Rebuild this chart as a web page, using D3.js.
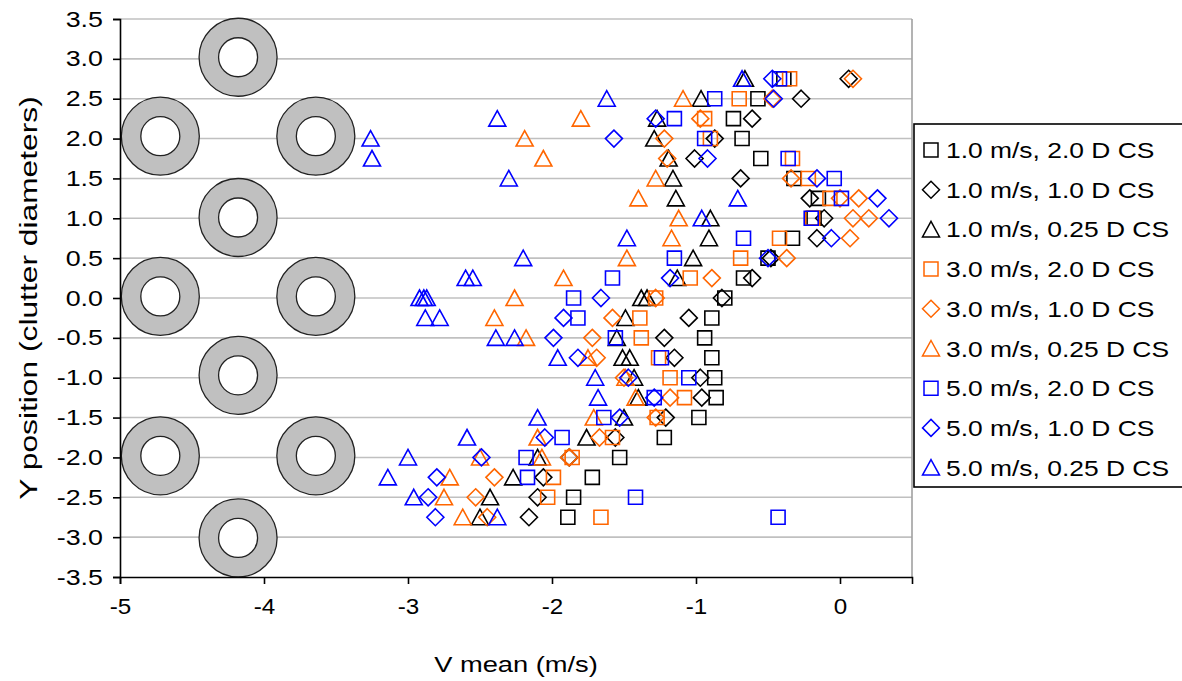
<!DOCTYPE html>
<html><head><meta charset="utf-8">
<script src="https://cdn.jsdelivr.net/npm/d3@7"></script>
<style>body{margin:0;background:#fff;} text{font-family:Arial,"Liberation Sans",sans-serif;fill:#000;}</style>
</head><body><svg id="chart" width="1182" height="681"></svg>
<script>
// ---- data: [y position, V mean] pairs ----
const s1_20 = [[2.75,-0.39],[2.5,-0.57],[2.25,-0.74],[2.0,-0.68],[1.75,-0.55],[1.5,-0.32],[1.25,-0.15],[1.0,-0.18],[0.75,-0.33],[0.5,-0.50],[0.25,-0.67],[0,-0.80],[-0.25,-0.89],[-0.5,-0.94],[-0.75,-0.89],[-1.0,-0.87],[-1.25,-0.86],[-1.5,-0.98],[-1.75,-1.22],[-2.0,-1.53],[-2.25,-1.72],[-2.5,-1.85],[-2.75,-1.89]];
const s1_10 = [[2.75,0.06],[2.5,-0.27],[2.25,-0.61],[2.0,-0.87],[1.75,-1.01],[1.5,-0.69],[1.25,-0.21],[1.0,-0.11],[0.75,-0.16],[0.5,-0.48],[0.25,-0.61],[0,-0.82],[-0.25,-1.05],[-0.5,-1.22],[-0.75,-1.15],[-1.0,-0.97],[-1.25,-0.96],[-1.5,-1.21],[-1.75,-1.56],[-2.0,-1.88],[-2.25,-2.06],[-2.5,-2.10],[-2.75,-2.16]];
const s1_025 = [[2.75,-0.66],[2.5,-0.965],[2.25,-1.27],[2.0,-1.29],[1.75,-1.19],[1.5,-1.16],[1.25,-1.14],[1.0,-0.90],[0.75,-0.91],[0.5,-1.02],[0.25,-1.13],[0,-1.38],[0,-1.34],[-0.25,-1.49],[-0.5,-1.55],[-0.75,-1.51],[-0.75,-1.46],[-1.0,-1.43],[-1.25,-1.40],[-1.5,-1.50],[-1.75,-1.76],[-2.0,-2.10],[-2.25,-2.27],[-2.5,-2.43],[-2.75,-2.50]];
const s3_20 = [[2.75,-0.35],[2.5,-0.70],[2.25,-0.94],[2.0,-0.90],[1.75,-0.33],[1.5,-0.22],[1.25,-0.07],[1.0,-0.19],[0.75,-0.42],[0.5,-0.69],[0.25,-1.04],[0,-1.28],[-0.25,-1.39],[-0.5,-1.38],[-0.75,-1.26],[-1.0,-1.18],[-1.25,-1.08],[-1.5,-1.27],[-1.75,-1.58],[-2.0,-1.86],[-2.25,-1.99],[-2.5,-2.03],[-2.75,-1.66]];
const s3_10 = [[2.75,0.09],[2.5,-0.47],[2.25,-0.97],[2.0,-1.22],[1.75,-1.20],[1.5,-0.34],[1.25,0.00],[1.25,0.13],[1.0,0.09],[1.0,0.20],[0.75,0.07],[0.5,-0.37],[0.25,-0.89],[0,-1.28],[-0.25,-1.58],[-0.5,-1.72],[-0.75,-1.69],[-1.0,-1.50],[-1.25,-1.18],[-1.5,-1.28],[-1.75,-1.67],[-2.0,-1.88],[-2.25,-2.40],[-2.5,-2.53],[-2.75,-2.45]];
const s3_025 = [[2.5,-1.09],[2.25,-1.80],[2.0,-2.19],[1.75,-2.06],[1.5,-1.28],[1.25,-1.40],[1.0,-1.12],[0.75,-1.17],[0.5,-1.48],[0.25,-1.92],[0,-2.26],[-0.25,-2.40],[-0.5,-2.18],[-0.75,-1.75],[-1.0,-1.49],[-1.25,-1.42],[-1.5,-1.71],[-1.75,-2.10],[-2.0,-2.50],[-2.0,-2.07],[-2.25,-2.71],[-2.5,-2.75],[-2.75,-2.62]];
const s5_20 = [[2.75,-0.42],[2.5,-0.87],[2.25,-1.15],[2.0,-0.94],[1.75,-0.36],[1.5,-0.04],[1.25,0.01],[1.0,-0.20],[0.75,-0.67],[0.5,-1.15],[0.25,-1.58],[0,-1.85],[-0.25,-1.82],[-0.5,-1.56],[-0.75,-1.24],[-1.0,-1.05],[-1.25,-1.29],[-1.5,-1.64],[-1.75,-1.93],[-2.0,-2.18],[-2.25,-2.17],[-2.5,-1.42],[-2.75,-0.43]];
const s5_10 = [[2.75,-0.47],[2.5,-0.46],[2.25,-1.28],[2.0,-1.57],[1.75,-0.92],[1.5,-0.16],[1.25,0.26],[1.0,0.34],[0.75,-0.06],[0.5,-0.50],[0.25,-1.18],[0,-1.66],[-0.25,-1.92],[-0.5,-1.99],[-0.75,-1.82],[-1.0,-1.47],[-1.25,-1.29],[-1.5,-1.53],[-1.75,-2.05],[-2.0,-2.49],[-2.25,-2.80],[-2.5,-2.86],[-2.75,-2.81]];
const s5_025 = [[2.75,-0.68],[2.5,-1.62],[2.25,-2.38],[2.0,-3.26],[1.75,-3.25],[1.5,-2.30],[1.25,-0.71],[1.0,-0.96],[0.75,-1.48],[0.5,-2.20],[0.25,-2.60],[0.25,-2.55],[0,-2.92],[0,-2.89],[0,-2.87],[-0.25,-2.88],[-0.25,-2.78],[-0.5,-2.39],[-0.5,-2.26],[-0.75,-1.96],[-1.0,-1.70],[-1.25,-1.68],[-1.5,-2.10],[-1.75,-2.59],[-2.0,-3.00],[-2.25,-3.14],[-2.5,-2.96],[-2.75,-2.38]];

const seriesNames = ["1.0 m/s, 2.0 D CS","1.0 m/s, 1.0 D CS","1.0 m/s, 0.25 D CS","3.0 m/s, 2.0 D CS","3.0 m/s, 1.0 D CS","3.0 m/s, 0.25 D CS","5.0 m/s, 2.0 D CS","5.0 m/s, 1.0 D CS","5.0 m/s, 0.25 D CS"];
const seriesData = [s1_20,s1_10,s1_025,s3_20,s3_10,s3_025,s5_20,s5_10,s5_025];
const seriesColors = ["#000000","#000000","#000000","#FF6600","#FF6600","#FF6600","#0000FF","#0000FF","#0000FF"];
const seriesShapes = ["square","diamond","triangle","square","diamond","triangle","square","diamond","triangle"];

// cylinder (clutter) positions
const ringX = [-4.18,-4.72,-3.64,-4.18,-4.72,-3.64,-4.18,-4.72,-3.64,-4.18];
const ringY = [3.02,2.03,2.03,1.01,0.02,0.02,-0.97,-1.98,-1.98,-3.01];

const xTicks = [-5,-4,-3,-2,-1,0];
const yTicks = [-3.5,-3,-2.5,-2,-1.5,-1,-0.5,0,0.5,1,1.5,2,2.5,3,3.5];

// ---- drawing ----
const svg = d3.select('#chart');
const x = d3.scaleLinear().domain([-5,0.5]).range([120,912]);
const y = d3.scaleLinear().domain([-3.5,3.5]).range([577,19]);

const shapePath = {
  square: "M-7,-7H7V7H-7Z",
  diamond: "M0,-8.5L8.5,0L0,8.5L-8.5,0Z",
  triangle: "M0,-8L8.5,7.5L-8.5,7.5Z"
};

function stretch(sel, factor){
  sel.each(function(){
    const w = this.getComputedTextLength();
    d3.select(this).attr("textLength", w*factor).attr("lengthAdjust","spacingAndGlyphs");
  });
}

// gridlines
svg.append("g").selectAll("line").data(yTicks.filter(v=>v>-3.5)).join("line")
  .attr("x1", x(-5)).attr("x2", x(0.5))
  .attr("y1", d=>y(d)).attr("y2", d=>y(d))
  .attr("stroke","#c0c0c0").attr("stroke-width",1.6);
svg.append("line").attr("x1",x(0.5)).attr("x2",x(0.5)).attr("y1",y(3.5)).attr("y2",y(-3.5))
  .attr("stroke","#a0a0a0").attr("stroke-width",1.6);

// rings
const rings = svg.append("g").selectAll("g").data(ringX.map((v,i)=>[v,ringY[i]])).join("g")
  .attr("transform", d=>`translate(${x(d[0])},${y(d[1])})`);
rings.append("circle").attr("r",39).attr("fill","#c0c0c0").attr("stroke","#222").attr("stroke-width",1.3);
rings.append("circle").attr("r",19.5).attr("fill","#fff").attr("stroke","#222").attr("stroke-width",1.3);

// axes
const yAxis = svg.append("g").attr("transform",`translate(${x(-5)},0)`)
  .call(d3.axisLeft(y).tickValues(yTicks).tickFormat(d=>d.toFixed(1)).tickSize(7).tickPadding(10));
const xAxis = svg.append("g").attr("transform",`translate(0,${y(-3.5)})`)
  .call(d3.axisBottom(x).tickValues(xTicks).tickFormat(d=>String(d)).tickSize(7).tickPadding(14));
[yAxis,xAxis].forEach(a=>{
  a.select(".domain").attr("stroke","#000").attr("stroke-width",1.6);
  a.selectAll(".tick line").attr("stroke","#000").attr("stroke-width",1.6);
  a.selectAll("text").attr("font-size",22).attr("font-family","Arial, 'Liberation Sans', sans-serif").attr("fill","#000");
});
stretch(yAxis.selectAll("text"),1.22);
stretch(xAxis.selectAll("text"),1.1);

// markers
seriesData.forEach((data,i)=>{
  svg.append("g").selectAll("path").data(data).join("path")
    .attr("d", shapePath[seriesShapes[i]])
    .attr("transform", d=>`translate(${x(d[1])},${y(d[0])})`)
    .attr("fill","none").attr("stroke",seriesColors[i]).attr("stroke-width",1.6);
});

// axis titles
const xt = svg.append("text").attr("x",(x(-5)+x(0.5))/2).attr("y",672).attr("text-anchor","middle")
  .attr("font-size",22).text("V mean (m/s)");
stretch(xt,1.24);
const yt = svg.append("text").attr("transform",`translate(37,${(y(3.5)+y(-3.5))/2}) rotate(-90)`)
  .attr("text-anchor","middle").attr("font-size",23).text("Y position (clutter diameters)");
stretch(yt,1.38);

// legend
const lg = svg.append("g");
lg.append("rect").attr("x",914).attr("y",124).attr("width",270).attr("height",363)
  .attr("fill","#fff").attr("stroke","#000").attr("stroke-width",1.6);
seriesNames.forEach((name,i)=>{
  const cy = 150 + i*39.7;
  lg.append("path").attr("d",shapePath[seriesShapes[i]]).attr("transform",`translate(931,${cy})`)
    .attr("fill","none").attr("stroke",seriesColors[i]).attr("stroke-width",1.5);
  const t = lg.append("text").attr("x",946).attr("y",cy+8).attr("font-size",22).text(name);
  stretch(t,1.2);
});
</script></body></html>
